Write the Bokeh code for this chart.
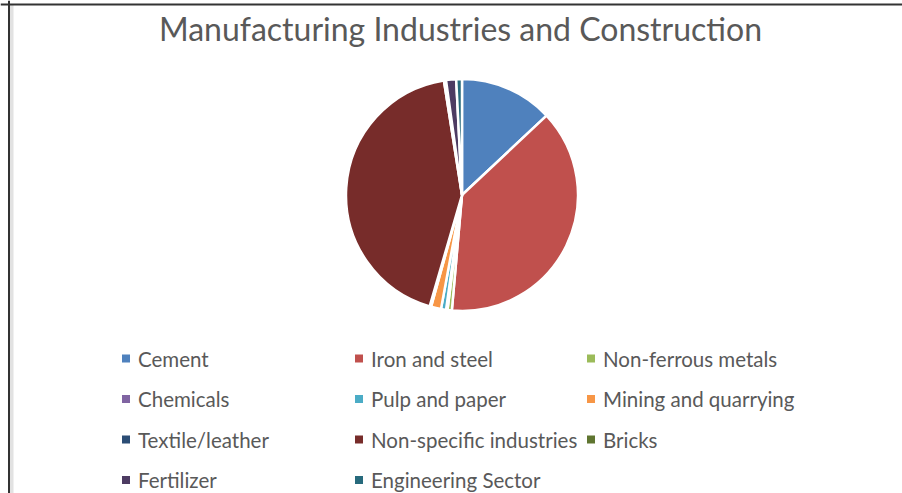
import numpy as np
from bokeh.plotting import figure
from bokeh.models import ColumnDataSource, Span, BoxAnnotation
from bokeh.core.properties import value
from bokeh.embed import file_html
from bokeh.resources import INLINE

# ---- data ----
categories = ["Cement", "Iron and steel", "Non-ferrous metals", "Chemicals",
              "Pulp and paper", "Mining and quarrying", "Textile/leather",
              "Non-specific industries", "Bricks", "Fertilizer", "Engineering Sector"]
shares = [13.0, 38.4, 0.6, 0.2, 0.7, 1.4, 0.2, 43.0, 0.3, 1.4, 0.8]
colors = ["#4F81BD", "#C0504D", "#9BBB59", "#8064A2", "#4BACC6", "#F79646",
          "#2C4D75", "#772C2A", "#5F7530", "#4D3B62", "#276A7C"]
title_text = "Manufacturing Industries and Construction"

W, H = 902, 493
p = figure(width=W, height=H, x_range=(0, W), y_range=(H, 0),
           output_backend="svg", toolbar_location=None, min_border=0)
p.axis.visible = False
p.grid.visible = False
p.outline_line_color = None
p.background_fill_color = "white"
p.border_fill_color = "white"

# frame decoration
p.add_layout(BoxAnnotation(left=9, right=13, top=4, bottom=H, fill_color="#e2e2e2",
                           fill_alpha=1, line_color=None))
p.add_layout(Span(location=4, dimension="width", line_color="#333333", line_width=2))
p.add_layout(Span(location=8.5, dimension="height", line_color="#333333", line_width=2))

# pie
vals = np.array(shares, dtype=float)
frac = vals / vals.sum()
cum = np.concatenate([[0], np.cumsum(frac)])
start = np.pi / 2 - cum[:-1] * 2 * np.pi
end = np.pi / 2 - cum[1:] * 2 * np.pi
src = ColumnDataSource(dict(start=start, end=end, color=colors, cat=categories))
p.wedge(x=461.5, y=194.5, radius=116, start_angle="start", end_angle="end",
        direction="clock", fill_color="color", line_color="white", line_width=2.5,
        source=src)

# title
p.text(x=[460], y=[28], text=[title_text], text_font=value("Lato"),
       text_font_size="32px", text_color="#595959", text_align="center",
       text_baseline="middle")

# legend (3 columns)
idx = np.arange(len(categories))
col = idx % 3
row = idx // 3
col_x = np.array([121.5, 354.5, 586.5])
mx = col_x[col] + 4
my = 358 + row * 40.5
p.rect(x=mx, y=my, width=8, height=8, fill_color=colors, line_color=None)
p.text(x=mx + 12, y=my, text=categories, text_font=value("Lato"),
       text_font_size="20.5px", text_color="#595959", text_align="left",
       text_baseline="middle")

open("out.html", "w").write(file_html(p, INLINE))
